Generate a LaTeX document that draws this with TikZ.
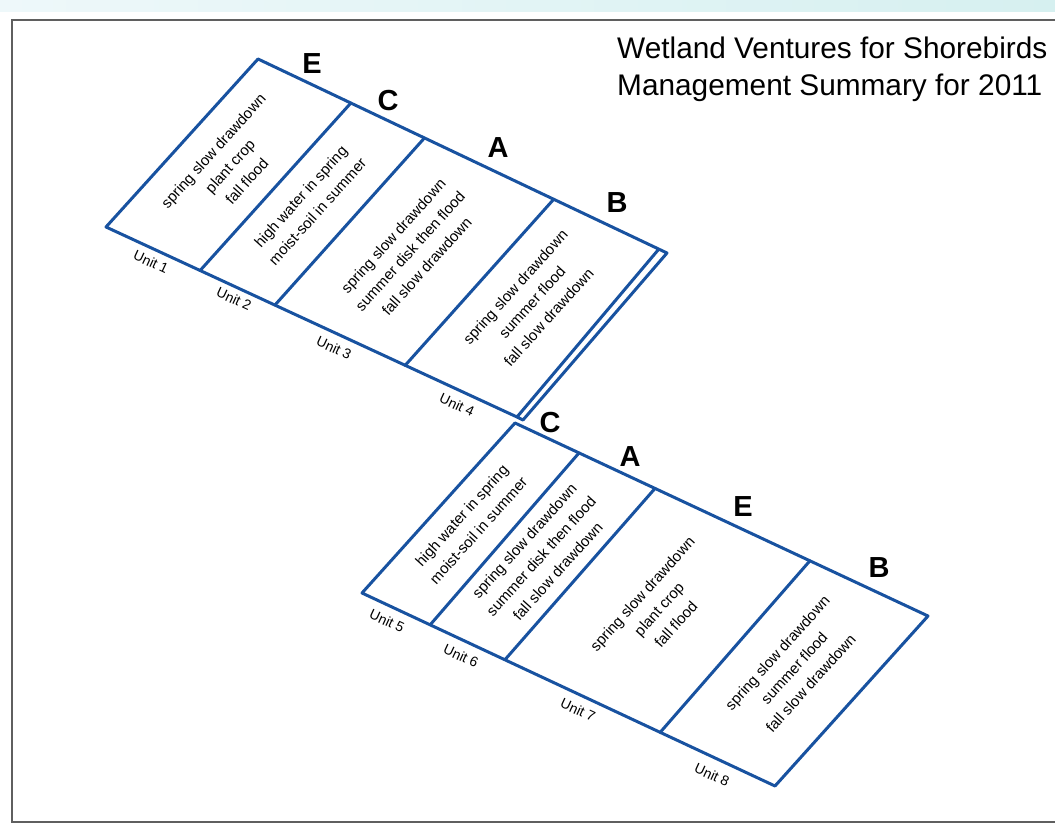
\documentclass[tikz,border=0pt]{standalone}
\usepackage{fontspec}
\setmainfont{Liberation Sans}
\usetikzlibrary{calc}
\definecolor{wblue}{RGB}{24,82,160}
\definecolor{framegray}{RGB}{95,95,95}
\definecolor{bandL}{RGB}{238,248,250}
\definecolor{bandR}{RGB}{214,240,240}
\begin{document}
\begin{tikzpicture}[x=1pt,y=-1pt,
  edge/.style={draw=wblue,line width=3pt,line join=round,line cap=round},
  cell/.style={align=center,rotate=48,font=\fontsize{15}{22.5}\selectfont,inner sep=0pt},
  unitlab/.style={rotate=-25,font=\fontsize{14}{16}\selectfont,inner sep=0pt},
  letter/.style={font=\fontsize{29}{30}\selectfont\bfseries,inner sep=0pt},
  titletext/.style={anchor=base west,font=\fontsize{29.8}{36}\selectfont,inner sep=0pt},
]
\useasboundingbox (0,0) rectangle (1055,826);
\fill[white] (0,0) rectangle (1055,826);
\shade[left color=bandL,right color=bandR] (0,0) rectangle (1055,12);
\draw[framegray,line width=2pt] (1060,20) -- (11.5,20) -- (11.5,821.5) -- (1060,821.5);

% title
\node[titletext] (t1) at (617,59) {Wetland Ventures for Shorebirds};
\node[titletext] (t2) at (617,96) {Management Summary for 2011};

% upper block
\coordinate (P1) at (106,227);
\coordinate (P2) at (258,59);
\coordinate (P3) at (667,253);
\coordinate (P4) at (517,417);
\coordinate (P4o) at (523,420);
\coordinate (P3i) at ($(P2)!0.98!(P3)$);
\draw[edge] (P4) -- (P1) -- (P2) -- (P3) -- (P4o) -- (P4) -- (P3i);
\foreach \t/\s in {0.227/0.229,0.407/0.411,0.723/0.728}{
  \draw[edge] ($(P2)!\t!(P3)$) -- ($(P1)!\s!(P4)$);
}

% lower block
\coordinate (Q1) at (362,593);
\coordinate (Q2) at (515,423);
\coordinate (Q3) at (928,616);
\coordinate (Q4) at (775,786);
\draw[edge] (Q1) -- (Q2) -- (Q3) -- (Q4) -- cycle;
\foreach \t/\s in {0.155/0.165,0.339/0.346,0.714/0.722}{
  \draw[edge] ($(Q2)!\t!(Q3)$) -- ($(Q1)!\s!(Q4)$);
}

% cell texts
\node[cell] (c1) at (230,166) {spring slow drawdown\\plant crop\\fall flood};
\node[cell] (c2) at (309,204) {high water in spring\\moist-soil in summer};
\node[cell] (c3) at (410,251) {spring slow drawdown\\summer disk then flood\\fall slow drawdown};
\node[cell] (c4) at (532,302) {spring slow drawdown\\summer flood\\fall slow drawdown};
\node[cell] (c5) at (470,523) {high water in spring\\moist-soil in summer};
\node[cell] (c6) at (541,556) {spring slow drawdown\\summer disk then flood\\fall slow drawdown};
\node[cell] (c7) at (659,609) {spring slow drawdown\\plant crop\\fall flood};
\node[cell] (c8) at (794,668) {spring slow drawdown\\summer flood\\fall slow drawdown};

% unit labels
\node[unitlab] (u1) at (151,262) {Unit 1};
\node[unitlab] (u2) at (234,299) {Unit 2};
\node[unitlab] (u3) at (334,348) {Unit 3};
\node[unitlab] (u4) at (457,405) {Unit 4};
\node[unitlab] (u5) at (387,621) {Unit 5};
\node[unitlab] (u6) at (461,656) {Unit 6};
\node[unitlab] (u7) at (578,710) {Unit 7};
\node[unitlab] (u8) at (712,775) {Unit 8};

% letters
\node[letter] (lE1) at (312,64) {E};
\node[letter] (lC1) at (388,101) {C};
\node[letter] (lA1) at (498,148) {A};
\node[letter] (lB1) at (617,203) {B};
\node[letter] (lC2) at (550,423) {C};
\node[letter] (lA2) at (630,457) {A};
\node[letter] (lE2) at (743,507) {E};
\node[letter] (lB2) at (879,568) {B};
\end{tikzpicture}
\end{document}
